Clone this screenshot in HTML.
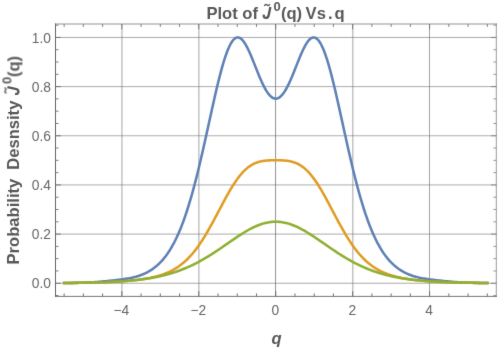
<!DOCTYPE html>
<html><head><meta charset="utf-8"><title>Plot</title>
<style>html,body{margin:0;padding:0;background:#fff;}svg{display:block;will-change:transform;}text{font-family:"Liberation Sans",sans-serif;}.t{font-size:13.8px;fill:#666;}.b{font-size:16.6px;font-weight:bold;fill:#585858;}.s{font-size:13px;font-weight:bold;fill:#585858;}</style></head><body>
<svg width="498" height="349" viewBox="0 0 498 349">
<defs><filter id="soft" x="0" y="0" width="498" height="349" filterUnits="userSpaceOnUse" color-interpolation-filters="sRGB"><feConvolveMatrix order="3" kernelMatrix="0.01 0.065 0.01 0.065 0.7 0.065 0.01 0.065 0.01" divisor="1" edgeMode="duplicate" preserveAlpha="true"/></filter></defs>
<g filter="url(#soft)">
<rect width="498" height="349" fill="#fff"/>
<path d="M121.95,24.00 V296.40 M198.90,24.00 V296.40 M352.85,24.00 V296.40 M429.50,24.00 V296.40" stroke="#666" stroke-opacity="0.58" stroke-width="1" fill="none"/>
<path d="M275.55,24.00 V296.40" stroke="#666" stroke-opacity="0.7" stroke-width="1" fill="none"/>
<path d="M55.50,283.25 H496.30 M55.50,234.09 H496.30 M55.50,184.93 H496.30 M55.50,135.77 H496.30 M55.50,86.61 H496.30 M55.50,37.45 H496.30" stroke="#666" stroke-opacity="0.55" stroke-width="1" fill="none"/>
<path d="M64.14,282.98 L65.42,282.97 L66.70,282.96 L67.98,282.94 L69.26,282.92 L70.55,282.90 L71.83,282.88 L73.11,282.86 L74.39,282.84 L75.68,282.82 L76.96,282.79 L78.24,282.76 L79.52,282.73 L80.81,282.70 L82.09,282.66 L83.37,282.62 L84.65,282.58 L85.93,282.53 L87.22,282.48 L88.50,282.43 L89.78,282.37 L91.06,282.31 L92.35,282.24 L93.63,282.17 L94.91,282.09 L96.19,282.00 L97.48,281.92 L98.76,281.82 L100.04,281.72 L101.32,281.62 L102.61,281.51 L103.89,281.39 L105.17,281.27 L106.45,281.15 L107.73,281.02 L109.02,280.89 L110.30,280.76 L111.58,280.62 L112.86,280.48 L114.15,280.34 L115.43,280.19 L116.71,280.04 L117.99,279.89 L119.28,279.73 L120.56,279.56 L121.84,279.39 L123.12,279.22 L124.40,279.03 L125.69,278.83 L126.97,278.62 L128.25,278.40 L129.53,278.17 L130.82,277.91 L132.10,277.64 L133.38,277.35 L134.66,277.03 L135.95,276.69 L137.23,276.32 L138.51,275.93 L139.79,275.50 L141.08,275.04 L142.36,274.54 L143.64,274.01 L144.92,273.44 L146.20,272.82 L147.49,272.16 L148.77,271.45 L150.05,270.69 L151.33,269.88 L152.62,269.01 L153.90,268.08 L155.18,267.09 L156.46,266.03 L157.75,264.90 L159.03,263.70 L160.31,262.42 L161.59,261.06 L162.87,259.62 L164.16,258.08 L165.44,256.45 L166.72,254.72 L168.00,252.89 L169.29,250.95 L170.57,248.90 L171.85,246.73 L173.13,244.44 L174.42,242.03 L175.70,239.48 L176.98,236.79 L178.26,233.97 L179.55,231.00 L180.83,227.89 L182.11,224.62 L183.39,221.20 L184.67,217.63 L185.96,213.89 L187.24,210.00 L188.52,205.94 L189.80,201.73 L191.09,197.35 L192.37,192.82 L193.65,188.13 L194.93,183.29 L196.22,178.31 L197.50,173.19 L198.78,167.94 L200.06,162.56 L201.34,157.07 L202.63,151.48 L203.91,145.81 L205.19,140.07 L206.47,134.27 L207.76,128.43 L209.04,122.57 L210.32,116.72 L211.60,110.90 L212.89,105.12 L214.17,99.41 L215.45,93.80 L216.73,88.32 L218.02,82.98 L219.30,77.82 L220.58,72.86 L221.86,68.13 L223.14,63.66 L224.43,59.47 L225.71,55.58 L226.99,52.02 L228.27,48.81 L229.56,45.97 L230.84,43.52 L232.12,41.47 L233.40,39.83 L234.69,38.61 L235.97,37.82 L237.25,37.45 L238.53,37.49 L239.81,37.94 L241.10,38.78 L242.38,39.99 L243.66,41.56 L244.94,43.44 L246.23,45.62 L247.51,48.05 L248.79,50.71 L250.07,53.56 L251.36,56.57 L252.64,59.68 L253.92,62.87 L255.20,66.11 L256.49,69.34 L257.77,72.54 L259.05,75.67 L260.33,78.71 L261.61,81.61 L262.90,84.36 L264.18,86.92 L265.46,89.27 L266.74,91.40 L268.03,93.28 L269.31,94.89 L270.59,96.23 L271.87,97.29 L273.16,98.04 L274.44,98.50 L275.72,98.65 L277.00,98.50 L278.28,98.04 L279.57,97.29 L280.85,96.23 L282.13,94.89 L283.41,93.28 L284.70,91.40 L285.98,89.27 L287.26,86.92 L288.54,84.36 L289.83,81.61 L291.11,78.71 L292.39,75.67 L293.67,72.54 L294.96,69.34 L296.24,66.11 L297.52,62.87 L298.80,59.68 L300.08,56.57 L301.37,53.56 L302.65,50.71 L303.93,48.05 L305.21,45.62 L306.50,43.44 L307.78,41.56 L309.06,39.99 L310.34,38.78 L311.63,37.94 L312.91,37.49 L314.19,37.45 L315.47,37.82 L316.75,38.61 L318.04,39.83 L319.32,41.47 L320.60,43.52 L321.88,45.97 L323.17,48.81 L324.45,52.02 L325.73,55.58 L327.01,59.47 L328.30,63.66 L329.58,68.13 L330.86,72.86 L332.14,77.82 L333.43,82.98 L334.71,88.32 L335.99,93.80 L337.27,99.41 L338.55,105.12 L339.84,110.90 L341.12,116.72 L342.40,122.57 L343.68,128.43 L344.97,134.27 L346.25,140.07 L347.53,145.81 L348.81,151.48 L350.10,157.07 L351.38,162.56 L352.66,167.94 L353.94,173.19 L355.22,178.31 L356.51,183.29 L357.79,188.13 L359.07,192.82 L360.35,197.35 L361.64,201.73 L362.92,205.94 L364.20,210.00 L365.48,213.89 L366.77,217.63 L368.05,221.20 L369.33,224.62 L370.61,227.89 L371.90,231.00 L373.18,233.97 L374.46,236.79 L375.74,239.48 L377.02,242.03 L378.31,244.44 L379.59,246.73 L380.87,248.90 L382.15,250.95 L383.44,252.89 L384.72,254.72 L386.00,256.45 L387.28,258.08 L388.57,259.62 L389.85,261.06 L391.13,262.42 L392.41,263.70 L393.69,264.90 L394.98,266.03 L396.26,267.09 L397.54,268.08 L398.82,269.01 L400.11,269.88 L401.39,270.69 L402.67,271.45 L403.95,272.16 L405.24,272.82 L406.52,273.44 L407.80,274.01 L409.08,274.54 L410.37,275.04 L411.65,275.50 L412.93,275.93 L414.21,276.32 L415.49,276.69 L416.78,277.03 L418.06,277.35 L419.34,277.64 L420.62,277.91 L421.91,278.17 L423.19,278.40 L424.47,278.62 L425.75,278.83 L427.04,279.03 L428.32,279.22 L429.60,279.39 L430.88,279.56 L432.16,279.73 L433.45,279.89 L434.73,280.04 L436.01,280.19 L437.29,280.34 L438.58,280.48 L439.86,280.62 L441.14,280.76 L442.42,280.89 L443.71,281.02 L444.99,281.15 L446.27,281.27 L447.55,281.39 L448.84,281.51 L450.12,281.62 L451.40,281.72 L452.68,281.82 L453.96,281.92 L455.25,282.00 L456.53,282.09 L457.81,282.17 L459.09,282.24 L460.38,282.31 L461.66,282.37 L462.94,282.43 L464.22,282.48 L465.51,282.53 L466.79,282.58 L468.07,282.62 L469.35,282.66 L470.63,282.70 L471.92,282.73 L473.20,282.76 L474.48,282.79 L475.76,282.82 L477.05,282.84 L478.33,282.86 L479.61,282.88 L480.89,282.90 L482.18,282.92 L483.46,282.94 L484.74,282.96 L486.02,282.97 L487.31,282.98" stroke="#5e81b5" stroke-width="2.55" fill="none" stroke-linejoin="round" stroke-linecap="square"/>
<path d="M64.14,283.02 L65.42,283.01 L66.70,282.99 L67.98,282.98 L69.26,282.97 L70.55,282.95 L71.83,282.94 L73.11,282.93 L74.39,282.91 L75.68,282.89 L76.96,282.88 L78.24,282.86 L79.52,282.84 L80.81,282.82 L82.09,282.80 L83.37,282.77 L84.65,282.75 L85.93,282.73 L87.22,282.70 L88.50,282.68 L89.78,282.65 L91.06,282.62 L92.35,282.59 L93.63,282.56 L94.91,282.52 L96.19,282.49 L97.48,282.45 L98.76,282.41 L100.04,282.37 L101.32,282.33 L102.61,282.29 L103.89,282.24 L105.17,282.20 L106.45,282.15 L107.73,282.09 L109.02,282.04 L110.30,281.98 L111.58,281.92 L112.86,281.86 L114.15,281.79 L115.43,281.72 L116.71,281.65 L117.99,281.58 L119.28,281.50 L120.56,281.41 L121.84,281.33 L123.12,281.24 L124.40,281.14 L125.69,281.04 L126.97,280.94 L128.25,280.83 L129.53,280.72 L130.82,280.60 L132.10,280.47 L133.38,280.34 L134.66,280.20 L135.95,280.06 L137.23,279.91 L138.51,279.75 L139.79,279.58 L141.08,279.41 L142.36,279.22 L143.64,279.03 L144.92,278.82 L146.20,278.61 L147.49,278.38 L148.77,278.14 L150.05,277.89 L151.33,277.62 L152.62,277.34 L153.90,277.04 L155.18,276.73 L156.46,276.40 L157.75,276.05 L159.03,275.68 L160.31,275.29 L161.59,274.87 L162.87,274.43 L164.16,273.97 L165.44,273.48 L166.72,272.96 L168.00,272.41 L169.29,271.83 L170.57,271.21 L171.85,270.56 L173.13,269.87 L174.42,269.15 L175.70,268.38 L176.98,267.56 L178.26,266.70 L179.55,265.80 L180.83,264.84 L182.11,263.84 L183.39,262.78 L184.67,261.67 L185.96,260.50 L187.24,259.27 L188.52,257.98 L189.80,256.63 L191.09,255.22 L192.37,253.75 L193.65,252.21 L194.93,250.61 L196.22,248.95 L197.50,247.22 L198.78,245.43 L200.06,243.58 L201.34,241.66 L202.63,239.69 L203.91,237.65 L205.19,235.57 L206.47,233.42 L207.76,231.23 L209.04,228.99 L210.32,226.71 L211.60,224.40 L212.89,222.04 L214.17,219.66 L215.45,217.26 L216.73,214.84 L218.02,212.41 L219.30,209.97 L220.58,207.54 L221.86,205.12 L223.14,202.71 L224.43,200.32 L225.71,197.96 L226.99,195.64 L228.27,193.36 L229.56,191.13 L230.84,188.96 L232.12,186.85 L233.40,184.80 L234.69,182.83 L235.97,180.93 L237.25,179.12 L238.53,177.39 L239.81,175.75 L241.10,174.20 L242.38,172.74 L243.66,171.38 L244.94,170.11 L246.23,168.93 L247.51,167.85 L248.79,166.86 L250.07,165.96 L251.36,165.14 L252.64,164.41 L253.92,163.76 L255.20,163.18 L256.49,162.67 L257.77,162.23 L259.05,161.85 L260.33,161.53 L261.61,161.25 L262.90,161.02 L264.18,160.83 L265.46,160.68 L266.74,160.55 L268.03,160.45 L269.31,160.38 L270.59,160.32 L271.87,160.28 L273.16,160.25 L274.44,160.23 L275.72,160.23 L277.00,160.23 L278.28,160.25 L279.57,160.28 L280.85,160.32 L282.13,160.38 L283.41,160.45 L284.70,160.55 L285.98,160.68 L287.26,160.83 L288.54,161.02 L289.83,161.25 L291.11,161.53 L292.39,161.85 L293.67,162.23 L294.96,162.67 L296.24,163.18 L297.52,163.76 L298.80,164.41 L300.08,165.14 L301.37,165.96 L302.65,166.86 L303.93,167.85 L305.21,168.93 L306.50,170.11 L307.78,171.38 L309.06,172.74 L310.34,174.20 L311.63,175.75 L312.91,177.39 L314.19,179.12 L315.47,180.93 L316.75,182.83 L318.04,184.80 L319.32,186.85 L320.60,188.96 L321.88,191.13 L323.17,193.36 L324.45,195.64 L325.73,197.96 L327.01,200.32 L328.30,202.71 L329.58,205.12 L330.86,207.54 L332.14,209.97 L333.43,212.41 L334.71,214.84 L335.99,217.26 L337.27,219.66 L338.55,222.04 L339.84,224.40 L341.12,226.71 L342.40,228.99 L343.68,231.23 L344.97,233.42 L346.25,235.57 L347.53,237.65 L348.81,239.69 L350.10,241.66 L351.38,243.58 L352.66,245.43 L353.94,247.22 L355.22,248.95 L356.51,250.61 L357.79,252.21 L359.07,253.75 L360.35,255.22 L361.64,256.63 L362.92,257.98 L364.20,259.27 L365.48,260.50 L366.77,261.67 L368.05,262.78 L369.33,263.84 L370.61,264.84 L371.90,265.80 L373.18,266.70 L374.46,267.56 L375.74,268.38 L377.02,269.15 L378.31,269.87 L379.59,270.56 L380.87,271.21 L382.15,271.83 L383.44,272.41 L384.72,272.96 L386.00,273.48 L387.28,273.97 L388.57,274.43 L389.85,274.87 L391.13,275.29 L392.41,275.68 L393.69,276.05 L394.98,276.40 L396.26,276.73 L397.54,277.04 L398.82,277.34 L400.11,277.62 L401.39,277.89 L402.67,278.14 L403.95,278.38 L405.24,278.61 L406.52,278.82 L407.80,279.03 L409.08,279.22 L410.37,279.41 L411.65,279.58 L412.93,279.75 L414.21,279.91 L415.49,280.06 L416.78,280.20 L418.06,280.34 L419.34,280.47 L420.62,280.60 L421.91,280.72 L423.19,280.83 L424.47,280.94 L425.75,281.04 L427.04,281.14 L428.32,281.24 L429.60,281.33 L430.88,281.41 L432.16,281.50 L433.45,281.58 L434.73,281.65 L436.01,281.72 L437.29,281.79 L438.58,281.86 L439.86,281.92 L441.14,281.98 L442.42,282.04 L443.71,282.09 L444.99,282.15 L446.27,282.20 L447.55,282.24 L448.84,282.29 L450.12,282.33 L451.40,282.37 L452.68,282.41 L453.96,282.45 L455.25,282.49 L456.53,282.52 L457.81,282.56 L459.09,282.59 L460.38,282.62 L461.66,282.65 L462.94,282.68 L464.22,282.70 L465.51,282.73 L466.79,282.75 L468.07,282.77 L469.35,282.80 L470.63,282.82 L471.92,282.84 L473.20,282.86 L474.48,282.88 L475.76,282.89 L477.05,282.91 L478.33,282.93 L479.61,282.94 L480.89,282.95 L482.18,282.97 L483.46,282.98 L484.74,282.99 L486.02,283.01 L487.31,283.02" stroke="#e19c24" stroke-width="2.55" fill="none" stroke-linejoin="round" stroke-linecap="square"/>
<path d="M64.14,283.01 L65.42,283.00 L66.70,282.98 L67.98,282.97 L69.26,282.96 L70.55,282.94 L71.83,282.93 L73.11,282.91 L74.39,282.90 L75.68,282.88 L76.96,282.86 L78.24,282.84 L79.52,282.82 L80.81,282.80 L82.09,282.78 L83.37,282.76 L84.65,282.73 L85.93,282.71 L87.22,282.68 L88.50,282.66 L89.78,282.63 L91.06,282.60 L92.35,282.57 L93.63,282.53 L94.91,282.50 L96.19,282.46 L97.48,282.43 L98.76,282.39 L100.04,282.35 L101.32,282.30 L102.61,282.26 L103.89,282.21 L105.17,282.16 L106.45,282.11 L107.73,282.06 L109.02,282.00 L110.30,281.95 L111.58,281.88 L112.86,281.82 L114.15,281.75 L115.43,281.68 L116.71,281.61 L117.99,281.54 L119.28,281.46 L120.56,281.37 L121.84,281.29 L123.12,281.20 L124.40,281.11 L125.69,281.01 L126.97,280.91 L128.25,280.80 L129.53,280.69 L130.82,280.57 L132.10,280.45 L133.38,280.33 L134.66,280.20 L135.95,280.06 L137.23,279.92 L138.51,279.77 L139.79,279.62 L141.08,279.46 L142.36,279.29 L143.64,279.12 L144.92,278.94 L146.20,278.75 L147.49,278.55 L148.77,278.35 L150.05,278.14 L151.33,277.92 L152.62,277.69 L153.90,277.46 L155.18,277.21 L156.46,276.96 L157.75,276.70 L159.03,276.43 L160.31,276.14 L161.59,275.85 L162.87,275.55 L164.16,275.23 L165.44,274.91 L166.72,274.57 L168.00,274.22 L169.29,273.86 L170.57,273.49 L171.85,273.10 L173.13,272.71 L174.42,272.30 L175.70,271.87 L176.98,271.44 L178.26,270.99 L179.55,270.53 L180.83,270.05 L182.11,269.56 L183.39,269.05 L184.67,268.53 L185.96,268.00 L187.24,267.45 L188.52,266.88 L189.80,266.30 L191.09,265.71 L192.37,265.10 L193.65,264.48 L194.93,263.84 L196.22,263.19 L197.50,262.52 L198.78,261.84 L200.06,261.14 L201.34,260.43 L202.63,259.71 L203.91,258.97 L205.19,258.22 L206.47,257.45 L207.76,256.67 L209.04,255.88 L210.32,255.08 L211.60,254.27 L212.89,253.45 L214.17,252.61 L215.45,251.77 L216.73,250.92 L218.02,250.06 L219.30,249.19 L220.58,248.32 L221.86,247.44 L223.14,246.56 L224.43,245.67 L225.71,244.78 L226.99,243.89 L228.27,243.00 L229.56,242.11 L230.84,241.22 L232.12,240.34 L233.40,239.46 L234.69,238.59 L235.97,237.72 L237.25,236.86 L238.53,236.02 L239.81,235.18 L241.10,234.36 L242.38,233.55 L243.66,232.75 L244.94,231.98 L246.23,231.22 L247.51,230.48 L248.79,229.76 L250.07,229.07 L251.36,228.40 L252.64,227.75 L253.92,227.13 L255.20,226.54 L256.49,225.98 L257.77,225.45 L259.05,224.95 L260.33,224.48 L261.61,224.05 L262.90,223.65 L264.18,223.28 L265.46,222.96 L266.74,222.66 L268.03,222.41 L269.31,222.20 L270.59,222.02 L271.87,221.88 L273.16,221.78 L274.44,221.72 L275.72,221.70 L277.00,221.72 L278.28,221.78 L279.57,221.88 L280.85,222.02 L282.13,222.20 L283.41,222.41 L284.70,222.66 L285.98,222.96 L287.26,223.28 L288.54,223.65 L289.83,224.05 L291.11,224.48 L292.39,224.95 L293.67,225.45 L294.96,225.98 L296.24,226.54 L297.52,227.13 L298.80,227.75 L300.08,228.40 L301.37,229.07 L302.65,229.76 L303.93,230.48 L305.21,231.22 L306.50,231.98 L307.78,232.75 L309.06,233.55 L310.34,234.36 L311.63,235.18 L312.91,236.02 L314.19,236.86 L315.47,237.72 L316.75,238.59 L318.04,239.46 L319.32,240.34 L320.60,241.22 L321.88,242.11 L323.17,243.00 L324.45,243.89 L325.73,244.78 L327.01,245.67 L328.30,246.56 L329.58,247.44 L330.86,248.32 L332.14,249.19 L333.43,250.06 L334.71,250.92 L335.99,251.77 L337.27,252.61 L338.55,253.45 L339.84,254.27 L341.12,255.08 L342.40,255.88 L343.68,256.67 L344.97,257.45 L346.25,258.22 L347.53,258.97 L348.81,259.71 L350.10,260.43 L351.38,261.14 L352.66,261.84 L353.94,262.52 L355.22,263.19 L356.51,263.84 L357.79,264.48 L359.07,265.10 L360.35,265.71 L361.64,266.30 L362.92,266.88 L364.20,267.45 L365.48,268.00 L366.77,268.53 L368.05,269.05 L369.33,269.56 L370.61,270.05 L371.90,270.53 L373.18,270.99 L374.46,271.44 L375.74,271.87 L377.02,272.30 L378.31,272.71 L379.59,273.10 L380.87,273.49 L382.15,273.86 L383.44,274.22 L384.72,274.57 L386.00,274.91 L387.28,275.23 L388.57,275.55 L389.85,275.85 L391.13,276.14 L392.41,276.43 L393.69,276.70 L394.98,276.96 L396.26,277.21 L397.54,277.46 L398.82,277.69 L400.11,277.92 L401.39,278.14 L402.67,278.35 L403.95,278.55 L405.24,278.75 L406.52,278.94 L407.80,279.12 L409.08,279.29 L410.37,279.46 L411.65,279.62 L412.93,279.77 L414.21,279.92 L415.49,280.06 L416.78,280.20 L418.06,280.33 L419.34,280.45 L420.62,280.57 L421.91,280.69 L423.19,280.80 L424.47,280.91 L425.75,281.01 L427.04,281.11 L428.32,281.20 L429.60,281.29 L430.88,281.37 L432.16,281.46 L433.45,281.54 L434.73,281.61 L436.01,281.68 L437.29,281.75 L438.58,281.82 L439.86,281.88 L441.14,281.95 L442.42,282.00 L443.71,282.06 L444.99,282.11 L446.27,282.16 L447.55,282.21 L448.84,282.26 L450.12,282.30 L451.40,282.35 L452.68,282.39 L453.96,282.43 L455.25,282.46 L456.53,282.50 L457.81,282.53 L459.09,282.57 L460.38,282.60 L461.66,282.63 L462.94,282.66 L464.22,282.68 L465.51,282.71 L466.79,282.73 L468.07,282.76 L469.35,282.78 L470.63,282.80 L471.92,282.82 L473.20,282.84 L474.48,282.86 L475.76,282.88 L477.05,282.90 L478.33,282.91 L479.61,282.93 L480.89,282.94 L482.18,282.96 L483.46,282.97 L484.74,282.98 L486.02,283.00 L487.31,283.01" stroke="#8fb032" stroke-width="2.55" fill="none" stroke-linejoin="round" stroke-linecap="square"/>
<path d="M64.14,296.40 v-3.00 M83.37,296.40 v-3.00 M102.61,296.40 v-3.00 M121.84,296.40 v-5.30 M141.08,296.40 v-3.00 M160.31,296.40 v-3.00 M179.55,296.40 v-3.00 M198.78,296.40 v-5.30 M218.02,296.40 v-3.00 M237.25,296.40 v-3.00 M256.49,296.40 v-3.00 M275.72,296.40 v-5.30 M294.96,296.40 v-3.00 M314.19,296.40 v-3.00 M333.43,296.40 v-3.00 M352.66,296.40 v-5.30 M371.90,296.40 v-3.00 M391.13,296.40 v-3.00 M410.37,296.40 v-3.00 M429.60,296.40 v-5.30 M448.84,296.40 v-3.00 M468.07,296.40 v-3.00 M487.31,296.40 v-3.00" stroke="#666" stroke-opacity="0.90" stroke-width="1" fill="none"/>
<path d="M64.14,24.00 v3.00 M83.37,24.00 v3.00 M102.61,24.00 v3.00 M121.84,24.00 v5.30 M141.08,24.00 v3.00 M160.31,24.00 v3.00 M179.55,24.00 v3.00 M198.78,24.00 v5.30 M218.02,24.00 v3.00 M237.25,24.00 v3.00 M256.49,24.00 v3.00 M275.72,24.00 v5.30 M294.96,24.00 v3.00 M314.19,24.00 v3.00 M333.43,24.00 v3.00 M352.66,24.00 v5.30 M371.90,24.00 v3.00 M391.13,24.00 v3.00 M410.37,24.00 v3.00 M429.60,24.00 v5.30 M448.84,24.00 v3.00 M468.07,24.00 v3.00 M487.31,24.00 v3.00" stroke="#666" stroke-opacity="0.80" stroke-width="1" fill="none"/>
<path d="M55.50,295.54 h3.00 M55.50,283.25 h5.30 M55.50,270.96 h3.00 M55.50,258.67 h3.00 M55.50,246.38 h3.00 M55.50,234.09 h5.30 M55.50,221.80 h3.00 M55.50,209.51 h3.00 M55.50,197.22 h3.00 M55.50,184.93 h5.30 M55.50,172.64 h3.00 M55.50,160.35 h3.00 M55.50,148.06 h3.00 M55.50,135.77 h5.30 M55.50,123.48 h3.00 M55.50,111.19 h3.00 M55.50,98.90 h3.00 M55.50,86.61 h5.30 M55.50,74.32 h3.00 M55.50,62.03 h3.00 M55.50,49.74 h3.00 M55.50,37.45 h5.30 M55.50,25.16 h3.00" stroke="#666" stroke-opacity="0.85" stroke-width="1" fill="none"/>
<path d="M496.30,295.54 h-3.00 M496.30,283.25 h-5.30 M496.30,270.96 h-3.00 M496.30,258.67 h-3.00 M496.30,246.38 h-3.00 M496.30,234.09 h-5.30 M496.30,221.80 h-3.00 M496.30,209.51 h-3.00 M496.30,197.22 h-3.00 M496.30,184.93 h-5.30 M496.30,172.64 h-3.00 M496.30,160.35 h-3.00 M496.30,148.06 h-3.00 M496.30,135.77 h-5.30 M496.30,123.48 h-3.00 M496.30,111.19 h-3.00 M496.30,98.90 h-3.00 M496.30,86.61 h-5.30 M496.30,74.32 h-3.00 M496.30,62.03 h-3.00 M496.30,49.74 h-3.00 M496.30,37.45 h-5.30 M496.30,25.16 h-3.00" stroke="#666" stroke-opacity="0.65" stroke-width="1" fill="none"/>
<path d="M55.50,23.50 V296.90" stroke="#666" stroke-width="1" fill="none"/>
<path d="M55.00,296.40 H496.80" stroke="#666" stroke-opacity="0.9" stroke-width="1" fill="none"/>
<path d="M55.00,24.00 H496.80" stroke="#666" stroke-opacity="0.7" stroke-width="1" fill="none"/>
<path d="M496.30,23.50 V296.90" stroke="#666" stroke-opacity="0.65" stroke-width="1" fill="none"/>
<text class="t" x="121.44" y="315.1" text-anchor="middle">−4</text>
<text class="t" x="198.38" y="315.1" text-anchor="middle">−2</text>
<text class="t" x="275.32" y="315.1" text-anchor="middle">0</text>
<text class="t" x="352.26" y="315.1" text-anchor="middle">2</text>
<text class="t" x="429.20" y="315.1" text-anchor="middle">4</text>
<text class="t" x="51" y="288.45" text-anchor="end">0.0</text>
<text class="t" x="51" y="239.29" text-anchor="end">0.2</text>
<text class="t" x="51" y="190.13" text-anchor="end">0.4</text>
<text class="t" x="51" y="140.97" text-anchor="end">0.6</text>
<text class="t" x="51" y="91.81" text-anchor="end">0.8</text>
<text class="t" x="51" y="42.65" text-anchor="end">1.0</text>
<text class="b" x="206.4" y="18.9">Plot of</text>
<path transform="translate(262.60,18.90)" d="M7.8,-12 L6.1,-3.9 C5.7,-1.6 4.6,-1.0 3.2,-1.0 C1.7,-1.0 0.9,-2.0 1.2,-4.3" stroke="#585858" stroke-width="2.35" fill="none"/><path d="M264.60,5.50 c0.7,-1.3 1.6,-1.3 2.5,-0.5 s1.8,0.8 2.5,-0.5" stroke="#585858" stroke-width="1.4" fill="none" stroke-linecap="round"/><text class="s" x="273.50" y="10.80">0</text><text class="b" x="280.90" y="18.90">(q)</text>
<text class="b" x="305.5" y="18.9">V</text>
<text class="b" x="316.8" y="18.9">s</text>
<text class="b" x="327.9" y="18.9">.</text>
<text class="b" x="334.4" y="18.9">q</text>
<text class="b" x="276.6" y="343.5" text-anchor="middle" font-style="italic">q</text>
<g transform="translate(19.4,263.3) rotate(-90)">
<text class="b" x="-1.2" y="0">Probability</text>
<text class="b" x="93.5" y="0">Desnsity</text>
<path transform="translate(168.30,0.00)" d="M7.8,-12 L6.1,-3.9 C5.7,-1.6 4.6,-1.0 3.2,-1.0 C1.7,-1.0 0.9,-2.0 1.2,-4.3" stroke="#585858" stroke-width="2.35" fill="none"/><path d="M170.30,-13.40 c0.7,-1.3 1.6,-1.3 2.5,-0.5 s1.8,0.8 2.5,-0.5" stroke="#585858" stroke-width="1.4" fill="none" stroke-linecap="round"/><text class="s" x="179.20" y="-8.10">0</text><text class="b" x="186.20" y="0.00">(q)</text>
</g>
</g>
</svg></body></html>
